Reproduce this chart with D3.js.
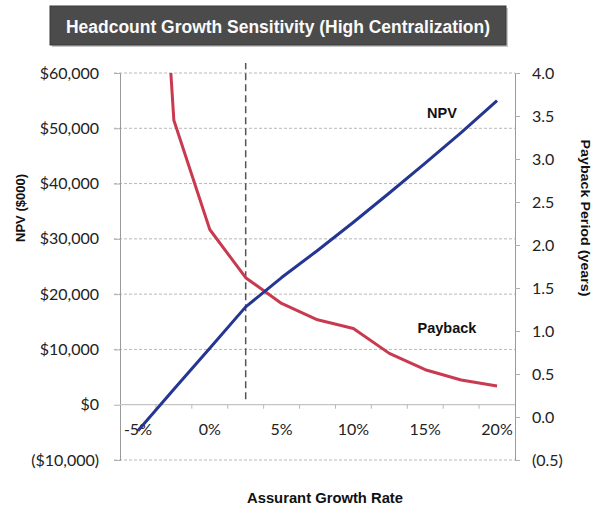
<!DOCTYPE html>
<html>
<head>
<meta charset="utf-8">
<script src="https://cdn.jsdelivr.net/npm/d3@7"></script>
<style>
  html, body { margin: 0; padding: 0; background: #fff; }
  svg { display: block; }
</style>
</head>
<body>
<svg id="chart" width="592" height="506"></svg>
<script>
// Growth-rate categories (2.5% steps) and the labels shown on the axis
const categories = ["-5%", "-2.5%", "0%", "2.5%", "5%", "7.5%", "10%", "12.5%", "15%", "17.5%", "20%"];
const categoryLabels = ["-5%", "0%", "5%", "10%", "15%", "20%"];

// NPV in $000 and payback period in years for each growth rate
const npvValues = [-4700, 2800, 10200, 17700, 23000, 27900, 33000, 38300, 43700, 49200, 55000];
const paybackValues = [10.0, 3.45, 2.18, 1.62, 1.32, 1.13, 1.03, 0.74, 0.55, 0.43, 0.36];

// Axis ticks
const npvTicks = [-10000, 0, 10000, 20000, 30000, 40000, 50000, 60000];
const paybackTicks = [-0.5, 0, 0.5, 1.0, 1.5, 2.0, 2.5, 3.0, 3.5, 4.0];

// Reference growth rate marked by the dashed vertical line
const markerCategory = "2.5%";
const markerRange = [1000, 61800];

const svg = d3.select("#chart");
const plot = { left: 120, right: 515, top: 73, bottom: 460 };

const x = d3.scaleBand().domain(categories).range([plot.left, plot.right]);
const cx = c => x(c) + x.bandwidth() / 2;
const yL = d3.scaleLinear().domain([-10000, 60000]).range([plot.bottom, plot.top]);
const yR = d3.scaleLinear().domain([-0.5, 4.0]).range([plot.bottom, plot.top]);

const tickFont = "Lato, 'Open Sans', sans-serif";
const boldFont = "'Liberation Sans', Arial, sans-serif";

// Title banner
svg.append("rect")
  .attr("x", 52).attr("y", 8).attr("width", 456).attr("height", 39)
  .attr("fill", "#c8c8c8");
svg.append("rect")
  .attr("x", 50).attr("y", 6).attr("width", 456).attr("height", 39)
  .attr("fill", "#4b4b4b").attr("stroke", "#3a3a3a").attr("stroke-width", 1);
svg.append("text")
  .attr("x", 278).attr("y", 33)
  .attr("text-anchor", "middle")
  .attr("font-family", boldFont).attr("font-weight", "bold").attr("font-size", 18)
  .attr("textLength", 424).attr("lengthAdjust", "spacingAndGlyphs")
  .attr("fill", "#fafafa")
  .text("Headcount Growth Sensitivity (High Centralization)");

// Horizontal gridlines
svg.append("g")
  .selectAll("line")
  .data(npvTicks.filter(d => d !== 0))
  .join("line")
  .attr("x1", plot.left - 6).attr("x2", plot.right)
  .attr("y1", d => yL(d)).attr("y2", d => yL(d))
  .attr("stroke", "#b8b8b8").attr("stroke-width", 1)
  .attr("stroke-dasharray", "3,2");

// Left axis (NPV)
const moneyFmt = d3.format(",");
const leftAxis = d3.axisLeft(yL)
  .tickValues(npvTicks)
  .tickSize(6).tickPadding(15)
  .tickFormat(d => d < 0 ? `($${moneyFmt(-d)})` : `$${moneyFmt(d)}`);
const gL = svg.append("g").attr("transform", `translate(${plot.left},0)`).call(leftAxis);
gL.select(".domain").attr("stroke", "#9a9a9a");
gL.selectAll(".tick line").attr("stroke", "#b0b0b0");
gL.selectAll(".tick text")
  .attr("font-family", tickFont).attr("font-size", 16).attr("fill", "#222");

// Right axis (payback period)
const rightAxis = d3.axisRight(yR)
  .tickValues(paybackTicks)
  .tickSize(5).tickPadding(12)
  .tickFormat(d => d < 0 ? `(${d3.format(".1f")(-d)})` : d3.format(".1f")(d));
const gR = svg.append("g").attr("transform", `translate(${plot.right},0)`).call(rightAxis);
gR.select(".domain").attr("stroke", "#9a9a9a");
gR.selectAll(".tick line").attr("stroke", "#b0b0b0");
gR.selectAll(".tick text")
  .attr("font-family", tickFont).attr("font-size", 16).attr("fill", "#222");

// Category axis on the zero line
const gX = svg.append("g").attr("transform", `translate(0,${yL(0)})`);
gX.append("line")
  .attr("x1", plot.left).attr("x2", plot.right)
  .attr("stroke", "#c4c4c4").attr("stroke-width", 1.2);
gX.selectAll("line.tick")
  .data(categories.slice(1))
  .join("line").attr("class", "tick")
  .attr("x1", d => x(d)).attr("x2", d => x(d))
  .attr("y1", 0).attr("y2", 4)
  .attr("stroke", "#b8b8b8");
gX.selectAll("text")
  .data(categoryLabels)
  .join("text")
  .attr("x", d => cx(d)).attr("y", 30)
  .attr("text-anchor", "middle")
  .attr("font-family", tickFont).attr("font-size", 16).attr("fill", "#222")
  .text(d => d);

// Clip series to the plot area
svg.append("clipPath").attr("id", "plot-clip")
  .append("rect")
  .attr("x", plot.left).attr("y", plot.top)
  .attr("width", plot.right - plot.left).attr("height", plot.bottom - plot.top);

// Dashed reference line
svg.append("line")
  .attr("x1", cx(markerCategory)).attr("x2", cx(markerCategory))
  .attr("y1", yL(markerRange[0])).attr("y2", yL(markerRange[1]))
  .attr("stroke", "#555").attr("stroke-width", 1.5)
  .attr("stroke-dasharray", "7,4");

const series = svg.append("g").attr("clip-path", "url(#plot-clip)");

// Payback line (right axis)
series.append("path")
  .datum(paybackValues)
  .attr("fill", "none")
  .attr("stroke", "#c93a50").attr("stroke-width", 3)
  .attr("stroke-linejoin", "round")
  .attr("d", d3.line().x((d, i) => cx(categories[i])).y(d => yR(d)));

// NPV line (left axis)
series.append("path")
  .datum(npvValues)
  .attr("fill", "none")
  .attr("stroke", "#253592").attr("stroke-width", 3)
  .attr("stroke-linejoin", "round")
  .attr("d", d3.line().x((d, i) => cx(categories[i])).y(d => yL(d)));

// Series labels
svg.append("text")
  .attr("x", 442).attr("y", 118)
  .attr("text-anchor", "middle")
  .attr("font-family", boldFont).attr("font-weight", "bold").attr("font-size", 14.5)
  .attr("fill", "#111")
  .text("NPV");
svg.append("text")
  .attr("x", 447).attr("y", 333)
  .attr("text-anchor", "middle")
  .attr("font-family", boldFont).attr("font-weight", "bold").attr("font-size", 14.5)
  .attr("fill", "#111")
  .text("Payback");

// Axis titles
svg.append("text")
  .attr("transform", "translate(20,208) rotate(-90)")
  .attr("text-anchor", "middle").attr("dominant-baseline", "central")
  .attr("font-family", boldFont).attr("font-weight", "bold").attr("font-size", 13)
  .attr("fill", "#111")
  .text("NPV ($000)");
svg.append("text")
  .attr("transform", "translate(585,218) rotate(90)")
  .attr("text-anchor", "middle").attr("dominant-baseline", "central")
  .attr("font-family", boldFont).attr("font-weight", "bold").attr("font-size", 13)
  .attr("textLength", 157).attr("lengthAdjust", "spacingAndGlyphs")
  .attr("fill", "#111")
  .text("Payback Period (years)");
svg.append("text")
  .attr("x", 325).attr("y", 503)
  .attr("text-anchor", "middle")
  .attr("font-family", boldFont).attr("font-weight", "bold").attr("font-size", 15)
  .attr("textLength", 156).attr("lengthAdjust", "spacingAndGlyphs")
  .attr("fill", "#111")
  .text("Assurant Growth Rate");
</script>
</body>
</html>
